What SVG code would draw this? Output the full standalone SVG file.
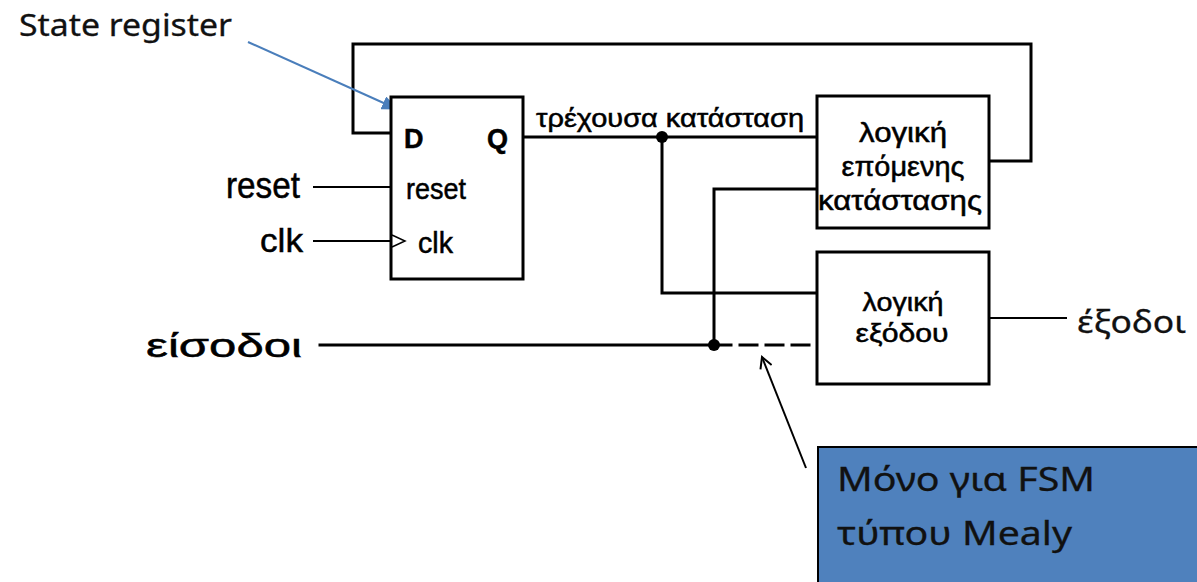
<svg xmlns="http://www.w3.org/2000/svg" width="1197" height="582" viewBox="0 0 1197 582">
  <defs>
    <style>
      .wire { fill: none; stroke: #000; stroke-width: 3; stroke-linecap: square; }
      .thin { fill: none; stroke: #000; stroke-width: 2; }
      .box { fill: #fff; stroke: #000; stroke-width: 3; }
      .arial { font-family: "Liberation Sans", Arial, sans-serif; fill: #000; stroke: #000; stroke-width: 0.5; }
      .soft { font-family: "Noto Sans", "Open Sans", sans-serif; fill: #111; stroke: #111; stroke-width: 0.3; }
      .mid { text-anchor: middle; }
    </style>
    <marker id="blueHead" markerWidth="16" markerHeight="14" refX="15" refY="7" orient="auto" markerUnits="userSpaceOnUse">
      <path d="M0,0 L16,7 L0,14 Z" fill="#4A7EBB"/>
    </marker>
    <marker id="openHead" markerWidth="14" markerHeight="14" refX="12" refY="7" orient="auto" markerUnits="userSpaceOnUse">
      <path d="M1,1 L12,7 L1,13" fill="none" stroke="#000" stroke-width="2"/>
    </marker>
  </defs>

  <rect width="1197" height="582" fill="#fff"/>

  <!-- wiring -->
  <g id="connectors">
    <!-- next-state feedback into D -->
    <path class="wire" d="M391 133 H353 V44 H1031 V161 H989"/>
    <!-- current state bus from Q -->
    <path class="wire" d="M523 137 H817"/>
    <path class="wire" d="M662 137 V293 H817"/>
    <!-- inputs -->
    <path class="wire" d="M320 345 H714"/>
    <path class="wire" d="M714 345 V189 H817"/>
    <path class="wire" d="M714 345 H810" stroke-dasharray="17 9" stroke-linecap="butt"/>
    <!-- reset / clk -->
    <path class="thin" d="M313 187 H391"/>
    <path class="thin" d="M313 241 H391"/>
    <!-- outputs -->
    <path class="thin" d="M989 318 H1067"/>
    <circle cx="662" cy="137" r="6" fill="#000"/>
    <circle cx="714" cy="345" r="6" fill="#000"/>
    <!-- annotation pointers -->
    <path d="M248 42 L397 109" stroke="#4A7EBB" stroke-width="2" fill="none" marker-end="url(#blueHead)"/>
    <path d="M806 468 L762 357" stroke="#000" stroke-width="2" fill="none" marker-end="url(#openHead)"/>
  </g>

  <g id="state-register">
    <rect class="box" x="391" y="97" width="132" height="182"/>
    <text class="arial" x="404" y="148" font-size="27" font-weight="bold">D</text>
    <text class="arial" x="487" y="148" font-size="27" font-weight="bold">Q</text>
    <text class="arial" x="406" y="199" font-size="30" textLength="60" lengthAdjust="spacingAndGlyphs">reset</text>
    <path d="M392 235 L405 241 L392 247" fill="none" stroke="#000" stroke-width="1.5"/>
    <text class="arial" x="418" y="253" font-size="29" textLength="35" lengthAdjust="spacingAndGlyphs">clk</text>
  </g>

  <g id="next-state-logic">
    <rect class="box" x="817" y="96" width="172" height="132"/>
    <text class="arial mid" x="903" y="142" font-size="27" textLength="88" lengthAdjust="spacingAndGlyphs">λογική</text>
    <text class="arial mid" x="903" y="176" font-size="27" textLength="123" lengthAdjust="spacingAndGlyphs">επόμενης</text>
    <text class="arial mid" x="900" y="210" font-size="27" textLength="164" lengthAdjust="spacingAndGlyphs">κατάστασης</text>
  </g>

  <g id="output-logic">
    <rect class="box" x="817" y="252" width="172" height="132"/>
    <text class="arial mid" x="903" y="311" font-size="26" textLength="81" lengthAdjust="spacingAndGlyphs">λογική</text>
    <text class="arial mid" x="902" y="342" font-size="26" textLength="93" lengthAdjust="spacingAndGlyphs">εξόδου</text>
  </g>

  <g id="labels">
    <text class="soft" x="19" y="36" font-size="30" textLength="213" lengthAdjust="spacingAndGlyphs">State register</text>
    <text class="arial" x="226" y="198" font-size="36" textLength="74" lengthAdjust="spacingAndGlyphs">reset</text>
    <text class="arial" x="260" y="252" font-size="34" textLength="43" lengthAdjust="spacingAndGlyphs">clk</text>
    <text class="arial" x="146" y="357" font-size="34" textLength="156" lengthAdjust="spacingAndGlyphs">είσοδοι</text>
    <text class="arial" x="536" y="127" font-size="25" textLength="268" lengthAdjust="spacingAndGlyphs">τρέχουσα κατάσταση</text>
    <text class="soft" x="1077" y="333" font-size="31" textLength="109" lengthAdjust="spacingAndGlyphs">έξοδοι</text>
  </g>

  <g id="mealy-note">
    <rect x="818" y="447" width="392" height="150" fill="#4F81BD" stroke="#000" stroke-width="2"/>
    <text class="soft" x="837" y="491" font-size="33" textLength="258" lengthAdjust="spacingAndGlyphs">Μόνο για FSM</text>
    <text class="soft" x="837" y="545" font-size="33" textLength="235" lengthAdjust="spacingAndGlyphs">τύπου Mealy</text>
  </g>
</svg>
